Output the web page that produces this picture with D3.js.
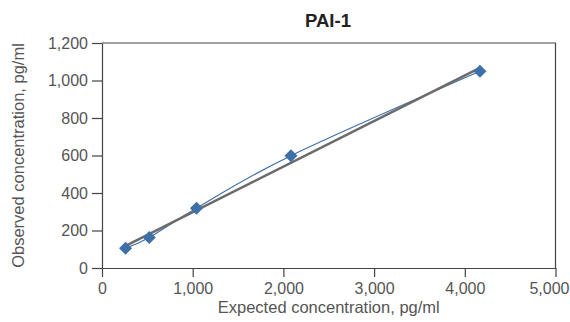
<!DOCTYPE html>
<html>
<head>
<meta charset="utf-8">
<script src="https://cdn.jsdelivr.net/npm/d3@7"></script>
<style>
  body { margin: 0; background: #fff; }
  svg text { font-family: "Liberation Sans", Arial, sans-serif; }
</style>
</head>
<body>
<div id="chart"></div>
<script>
// PAI-1 linearity: expected vs observed
const expected = [260, 521, 1042, 2083, 4167];
const observed = [106, 163, 319, 599, 1049];
const xTicks = [0, 1000, 2000, 3000, 4000, 5000];
const yTicks = [0, 200, 400, 600, 800, 1000, 1200];

const width = 570, height = 322;
const margin = {top: 43, right: 14.5, bottom: 54, left: 102};

const data = expected.map((d, i) => ({x: d, y: observed[i]}));

const svg = d3.select("#chart").append("svg")
  .attr("width", width)
  .attr("height", height);

const xScale = d3.scaleLinear()
  .domain([0, 5000])
  .range([margin.left, width - margin.right]);

const yScale = d3.scaleLinear()
  .domain([0, 1200])
  .range([height - margin.bottom, margin.top]);

const fmt = d3.format(",");

// box (top + right)
svg.append("path")
  .attr("d", `M${xScale(0)},${yScale(1200)}H${xScale(5000)}V${yScale(0)}`)
  .attr("fill", "none")
  .attr("stroke", "#444")
  .attr("stroke-width", 1.2);

const xAxis = svg.append("g")
  .attr("transform", `translate(0,${yScale(0)})`)
  .call(d3.axisBottom(xScale).tickValues(xTicks).tickFormat(fmt).tickSize(9).tickSizeOuter(0));

const yAxis = svg.append("g")
  .attr("transform", `translate(${xScale(0)},0)`)
  .call(d3.axisLeft(yScale).tickValues(yTicks).tickFormat(fmt).tickSize(10).tickSizeOuter(0));

[xAxis, yAxis].forEach(g => {
  g.select(".domain").attr("stroke", "#444").attr("stroke-width", 1.2);
  g.selectAll(".tick line").attr("stroke", "#444").attr("stroke-width", 1.2);
  g.selectAll(".tick text").attr("fill", "#555").attr("font-size", 16);
});
xAxis.selectAll(".tick text").attr("y", 12).attr("dy", "0.9em");
// keep the last label inside the window
xAxis.selectAll(".tick text").filter(d => d === 5000)
  .attr("text-anchor", "end").attr("x", width - 1 - xScale(5000));
yAxis.selectAll(".tick text").attr("x", -14);

// smooth data line
const line = d3.line()
  .x(d => xScale(d.x))
  .y(d => yScale(d.y))
  .curve(d3.curveCatmullRom.alpha(0));

svg.append("path")
  .datum(data)
  .attr("d", line)
  .attr("fill", "none")
  .attr("stroke", "#3f70ab")
  .attr("stroke-width", 1.2);

// linear trend line
const mx = d3.mean(data, d => d.x), my = d3.mean(data, d => d.y);
const slope = d3.sum(data, d => (d.x - mx) * (d.y - my)) / d3.sum(data, d => (d.x - mx) ** 2);
const icpt = my - slope * mx;
const xExt = d3.extent(expected);

svg.append("line")
  .attr("x1", xScale(xExt[0]))
  .attr("y1", yScale(icpt + slope * xExt[0]))
  .attr("x2", xScale(xExt[1]))
  .attr("y2", yScale(icpt + slope * xExt[1]))
  .attr("stroke", "#6b6b6b")
  .attr("stroke-width", 2.6);

// diamond markers
svg.selectAll(".pt")
  .data(data)
  .join("path")
  .attr("class", "pt")
  .attr("transform", d => `translate(${xScale(d.x)},${yScale(d.y)})`)
  .attr("d", "M0,-6.5L6.5,0L0,6.5L-6.5,0Z")
  .attr("fill", "#3d6fa9");

// title
svg.append("text")
  .attr("x", 328).attr("y", 27)
  .attr("text-anchor", "middle")
  .attr("font-size", 18.5).attr("font-weight", "bold")
  .attr("fill", "#222")
  .text("PAI-1");

// axis titles
svg.append("text")
  .attr("x", (xScale(0) + xScale(5000)) / 2).attr("y", 313)
  .attr("text-anchor", "middle")
  .attr("font-size", 16.5).attr("fill", "#555")
  .text("Expected concentration, pg/ml");

svg.append("text")
  .attr("transform", `translate(24,${(yScale(0) + yScale(1200)) / 2}) rotate(-90)`)
  .attr("text-anchor", "middle")
  .attr("font-size", 16.5).attr("fill", "#555")
  .text("Observed concentration, pg/ml");
</script>
</body>
</html>
